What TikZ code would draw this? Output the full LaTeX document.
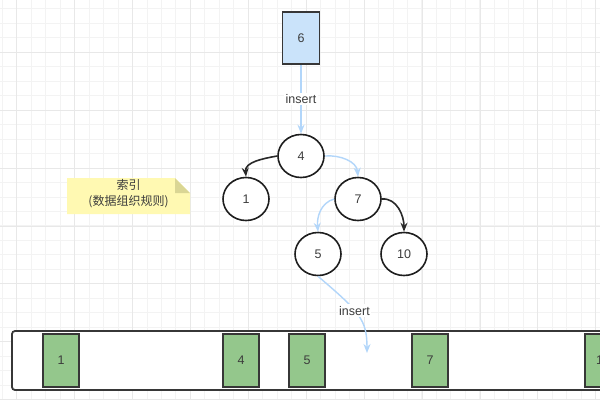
\documentclass[tikz,border=0pt]{standalone}
\usepackage{fontspec}
\setmainfont{Liberation Sans}
\newfontfamily\cjkfont{Noto Sans CJK SC}
\usetikzlibrary{arrows.meta,shapes.geometric}

\definecolor{gridminor}{RGB}{243,243,243}
\definecolor{gridmajor}{RGB}{232,232,232}
\definecolor{boxline}{RGB}{55,55,55}
\definecolor{nodeline}{RGB}{30,30,30}
\definecolor{textgray}{RGB}{60,60,60}
\definecolor{newblue}{RGB}{202,227,250}
\definecolor{leafgreen}{RGB}{148,199,140}
\definecolor{arrowblue}{RGB}{178,214,250}
\definecolor{arrowdark}{RGB}{40,40,40}
\definecolor{notefill}{RGB}{255,249,178}
\definecolor{notefold}{RGB}{218,214,148}

\begin{document}
\begin{tikzpicture}[x=1pt,y=-1pt,
  font=\fontsize{12.5}{15}\selectfont,
  keynode/.style={ellipse,draw=nodeline,line width=1.6pt,fill=white,
    minimum width=46pt,minimum height=43pt,inner sep=0pt,text=textgray},
  rowbox/.style={rectangle,draw=boxline,line width=1.8pt,
    minimum width=36pt,minimum height=53pt,inner sep=0pt,text=textgray},
  lbl/.style={fill=white,inner sep=1.5pt,text=textgray},
  bluearrow/.style={draw=arrowblue,line width=1.4pt,
    -{Stealth[length=9pt,width=7pt]}},
  darkarrow/.style={draw=arrowdark,line width=1.6pt,
    -{Stealth[length=9pt,width=7pt]}}]
  \useasboundingbox (0,0) rectangle (600,400);
  \clip (0,0) rectangle (600,400);

  % Background grid
  \fill[white] (0,0) rectangle (600,400);
  \foreach \i in {0,...,41} {
    \draw[gridminor,line width=1pt] ({2.35+14.47*\i},0) -- ++(0,400);
  }
  \foreach \i in {0,...,27} {
    \draw[gridminor,line width=1pt] (0,{8.9+14.47*\i}) -- ++(600,0);
  }
  \foreach \i in {0,...,10} {
    \draw[gridmajor,line width=1pt] ({16.8+57.9*\i},0) -- ++(0,400);
  }
  \foreach \i in {0,...,7} {
    \draw[gridmajor,line width=1pt] (0,{52.3+57.9*\i}) -- ++(600,0);
  }

  % Note
  \fill[notefill] (67,178) -- (175,178) -- (190,193) -- (190,214) -- (67,214) -- cycle;
  \fill[notefold] (175,178) -- (175,193) -- (190,193) -- cycle;
  \node[align=center,text=textgray,font=\cjkfont\fontsize{12}{16}\selectfont]
    (note) at (128.5,194) {索引\\(数据组织规则)};

  % Data row
  \node[rectangle,draw=boxline,line width=1.8pt,fill=white,rounded corners=3pt,
    minimum width=608pt,minimum height=59pt,inner sep=0pt] (row) at (316,360.5) {};
  \node[rowbox,fill=leafgreen] (r1) at (61,360.5) {1};
  \node[rowbox,fill=leafgreen] (r4) at (241,360.5) {4};
  \node[rowbox,fill=leafgreen] (r5) at (307,360.5) {5};
  \node[rowbox,fill=leafgreen] (r7) at (430,360.5) {7};
  \node[rowbox,fill=leafgreen] (r10) at (603,360.5) {10};
  \coordinate (ins) at (367,353);

  % New key
  \node[rowbox,fill=newblue,minimum width=37pt,minimum height=52pt] (new) at (301,38) {6};

  % Index tree
  \node[keynode] (n4) at (301,156) {4};
  \node[keynode] (n1) at (246,199) {1};
  \node[keynode] (n7) at (358,199) {7};
  \node[keynode] (n5) at (318,254) {5};
  \node[keynode] (n10) at (404,254) {10};

  % Arrows
  \draw[bluearrow] (new) -- (n4) node[midway,lbl] {insert};
  \draw[darkarrow] (n4.west) to[out=190,in=95] (n1.north);
  \draw[bluearrow] (n4.east) to[out=5,in=95] (n7.north);
  \draw[bluearrow] (n7.west) to[out=195,in=95] (n5.north);
  \draw[darkarrow] (n7.east) to[out=5,in=90] (n10.north);
  \draw[bluearrow] (n5.south) .. controls (360,312) and (367,320) .. (ins)
    node[pos=0.42,lbl] {insert};
\end{tikzpicture}
\end{document}
